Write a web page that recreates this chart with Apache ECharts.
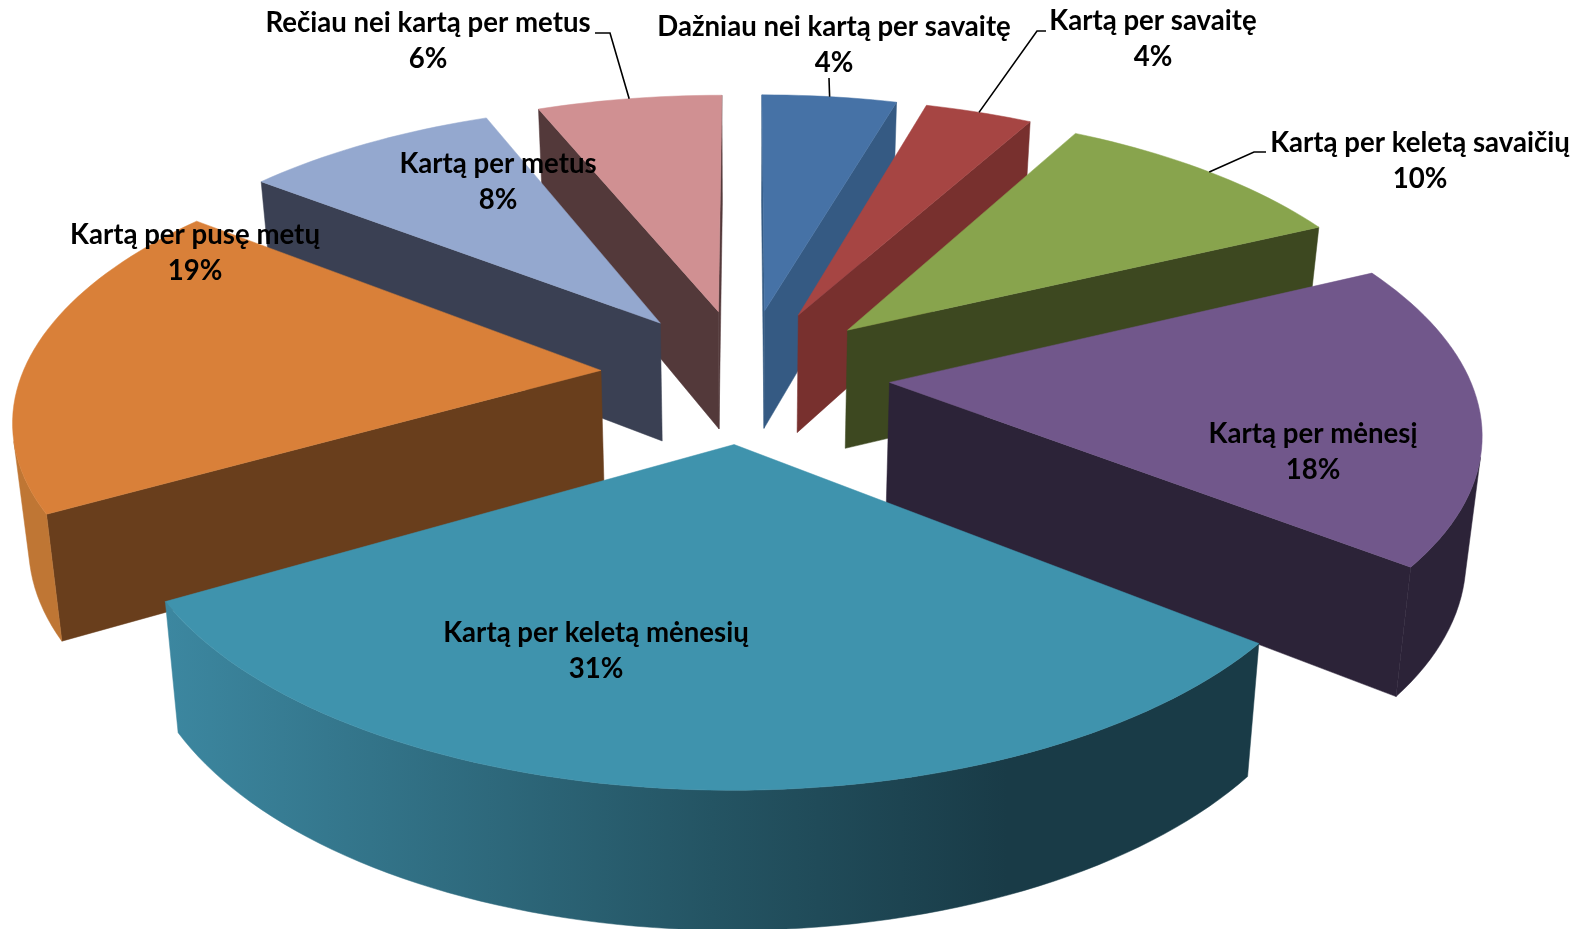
<!DOCTYPE html>
<html><head><meta charset="utf-8">
<style>html,body{margin:0;padding:0;background:#fff}#c{width:1585px;height:929px}</style>
<script src="https://cdn.jsdelivr.net/npm/echarts@6/dist/echarts.min.js"></script>
</head><body><div id="c"></div>
<script>
const categories = ['Dažniau nei kartą per savaitę','Kartą per savaitę','Kartą per keletą savaičių','Kartą per mėnesį','Kartą per keletą mėnesių','Kartą per pusę metų','Kartą per metus','Rečiau nei kartą per metus'];
// Shares; the printed labels are these values rounded
const shares = [4.45,3.55,9.9,17.7,31.1,18.8,8.4,6.1];

const topColors   = ['#4672a6','#a64543','#88a44d','#71578b','#3f93ad','#d98039','#94a8cf','#d09092'];
const sideColors  = ['#355a83','#78302e','#3d4820','#2c2338','#1a3c48','#693e1c','#3a4053','#53393a'];
const outerStart  = ['#355a83','#78302e','#3d4820','#2c2338','#3c87a0','#bf7634','#3a4053','#53393a'];
const outerMiddle = ['#355a83','#78302e','#3d4820','#2c2338','#245463','#bf7634','#3a4053','#53393a'];
const outerEnd    = ['#355a83','#78302e','#3d4820','#2c2338','#193b47','#bf7634','#3a4053','#53393a'];

// Label layout: centre of the two-line text block, and leader elbow path (if any)
const labelCentres = [[834,45],[1153,39],[1420,161],[1313,452],[596,651],[195,253],[498,182],[428,41]];
const leaderPaths  = [[[829,78]],[[1037,31],[1046,31]],[[1254,152],[1266,152]],null,null,null,null,[[610,33],[595,33]]];

// Projection of the tilted pie
const view = {cx:745, cy:375, ax:579, ay:268, persp:0.155, depth:123, shrink:0.978, explode:0.25, startDeg:0};
const rad = d => d*Math.PI/180;

const total = shares.reduce((a,b)=>a+b,0);
const angles = []; let run = 0;
shares.forEach(v => { const a0 = view.startDeg + run/total*360; run += v; angles.push([a0, view.startDeg + run/total*360]); });

function project(u, v, low){
  const s = (low ? view.shrink : 1) / (1 - view.persp*v);
  return [view.cx + view.ax*u*s, view.cy + (view.ay*v + (low ? view.depth : 0))*s];
}
function sliceBase(i){
  const m = rad((angles[i][0]+angles[i][1])/2);
  return [view.explode*Math.sin(m), -view.explode*Math.cos(m)];
}
function rimPoint(i, deg, low){
  const b = sliceBase(i), t = rad(deg);
  return project(b[0]+Math.sin(t), b[1]-Math.cos(t), low);
}
function area(p){ let s=0; for(let i=0;i<p.length;i++){const q=p[(i+1)%p.length]; s+=p[i][0]*q[1]-q[0]*p[i][1];} return s/2; }
const poly = (pts, fill) => ({type:'polygon', silent:true, shape:{points:pts}, style:{fill, stroke:fill, lineWidth:0.5}});

function renderSlice(params, api){
  const i = api.value(0);
  const [a0,a1] = angles[i];
  const b = sliceBase(i);
  const At = project(b[0],b[1],false), Ab = project(b[0],b[1],true);
  const n = Math.max(8, Math.round((a1-a0)/1.5));
  const rimT=[], rimB=[];
  for(let k=0;k<=n;k++){ const d=a0+(a1-a0)*k/n; rimT.push(rimPoint(i,d,false)); rimB.push(rimPoint(i,d,true)); }
  const children = [];
  const startWall=[At,rimT[0],rimB[0],Ab], endWall=[rimT[n],At,Ab,rimB[n]];
  if(area(startWall)<0) children.push(poly(startWall, sideColors[i]));
  if(area(endWall)<0) children.push(poly(endWall, sideColors[i]));
  let first=-1,last=-1;
  for(let k=0;k<n;k++){
    if(area([rimT[k],rimT[k+1],rimB[k+1],rimB[k]])<0){ if(first<0) first=k; last=k; }
  }
  if(first>=0){
    const T=rimT.slice(first,last+2), B=rimB.slice(first,last+2).reverse();
    const pts=T.concat(B), xs=pts.map(p=>p[0]);
    const fill={type:'linear',global:true,x:Math.max(...xs),y:0,x2:Math.min(...xs),y2:0,
      colorStops:[{offset:0,color:outerEnd[i]},{offset:0.23,color:outerEnd[i]},{offset:0.5,color:outerMiddle[i]},{offset:1,color:outerStart[i]}]};
    children.push({type:'polygon',silent:true,shape:{points:pts},style:{fill,stroke:fill,lineWidth:0.5}});
  }
  children.push(poly([At].concat(rimT), topColors[i]));
  return {type:'group', children};
}
function renderLabel(params, api){
  const i = api.value(0);
  const [x,y] = labelCentres[i];
  const children=[];
  if(leaderPaths[i]){
    const pts=[rimPoint(i,(angles[i][0]+angles[i][1])/2,false)].concat(leaderPaths[i]);
    children.push({type:'polyline',silent:true,shape:{points:pts},style:{fill:null,stroke:'#000',lineWidth:1.6}});
  }
  children.push({type:'text',silent:true,style:{x,y:y+0.5,text:categories[i]+'\n'+Math.round(shares[i])+'%',align:'center',verticalAlign:'middle',
    fill:'#000',font:'bold 27.6px Lato',lineHeight:36}});
  return {type:'group',children};
}
// Back-to-front painting order follows each slice's distance from the viewer
const order = shares.map((_,i)=>i).sort((a,b)=>sliceBase(a)[1]-sliceBase(b)[1]);

const chart = echarts.init(document.getElementById('c'), null, {renderer:'canvas'});
chart.setOption({
  animation:false,
  backgroundColor:'#fff',
  series:[
    {type:'custom',coordinateSystem:'none',renderItem:renderSlice,data:order.map(i=>[i,shares[i]]),z:2},
    {type:'custom',coordinateSystem:'none',renderItem:renderLabel,data:shares.map((v,i)=>[i,v]),z:3}
  ]
});
</script></body></html>
